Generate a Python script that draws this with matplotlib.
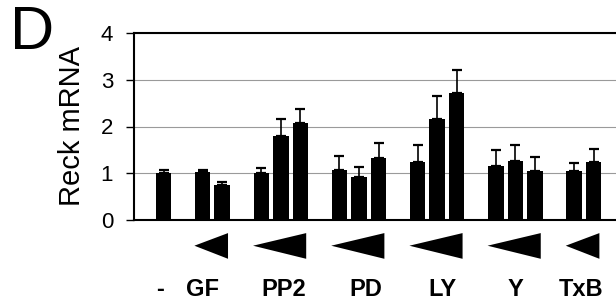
import matplotlib
matplotlib.use("Agg")
import matplotlib.pyplot as plt
import numpy as np
from matplotlib.patches import Polygon

plt.rcParams["font.family"] = ["Liberation Sans", "DejaVu Sans"]

# groups of treatments, bars placed in slots with a blank slot between groups
groups = ["-", "GF", "PP2", "PD", "LY", "Y", "TxB"]
group_slots = [[0], [2, 3], [5, 6, 7], [9, 10, 11], [13, 14, 15], [17, 18, 19], [21, 22]]
means = [
    [1.00],
    [1.02, 0.74],
    [1.00, 1.80, 2.07],
    [1.08, 0.93, 1.33],
    [1.25, 2.17, 2.72],
    [1.16, 1.27, 1.05],
    [1.04, 1.24],
]
errors = [
    [0.06],
    [0.06, 0.07],
    [0.12, 0.36, 0.30],
    [0.28, 0.21, 0.31],
    [0.35, 0.48, 0.49],
    [0.33, 0.33, 0.30],
    [0.18, 0.28],
]
yticks = [0, 1, 2, 3, 4]
# small horizontal nudges of the group labels (slot units)
label_shift = [-0.2, -0.5, 0.15, 0.35, 0.25, 0.0, -0.15]

x = np.concatenate([np.array(s, float) for s in group_slots])
y = np.concatenate([np.array(m, float) for m in means])
e = np.concatenate([np.array(v, float) for v in errors])

fig = plt.figure(figsize=(6.16, 3.06), dpi=100)
ax = fig.add_axes([134 / 616, 1 - 220 / 306, 1 - 134 / 616, 187 / 306])

ax.bar(x, y, width=0.79, color="black", zorder=3)
ax.errorbar(x, y, yerr=[np.zeros_like(e), e], fmt="none", ecolor="black",
            elinewidth=1.2, capsize=3.6, capthick=1.6, zorder=4)

ax.set_xlim(-1.51, 23.15)
ax.set_ylim(0, 4)
ax.set_yticks(yticks)
ax.set_yticklabels([str(t) for t in yticks], fontsize=16)
ax.set_xticks([])
ax.tick_params(axis="y", direction="out", length=6, width=1, pad=9, colors="black")
ax.yaxis.grid(True, color="#9a9a9a", linewidth=0.8, zorder=0)
ax.set_axisbelow(True)
for side in ("left", "bottom", "top"):
    ax.spines[side].set_linewidth(1.5)
    ax.spines[side].set_color("black")
ax.spines["right"].set_visible(False)

ax.set_ylabel("Reck mRNA", fontsize=21)
ax.yaxis.set_label_coords(-0.099, 0.5)

# dose wedges under each treated group
for slots in group_slots[1:]:
    tip = slots[0] - 0.42
    base = slots[-1] + 0.3
    tri = Polygon([[tip, -0.55], [base, -0.28], [base, -0.83]], closed=True,
                  facecolor="black", edgecolor="none", clip_on=False)
    ax.add_patch(tri)

for name, slots, dx in zip(groups, group_slots, label_shift):
    cx = np.mean(slots) + dx
    ax.text(cx, -1.48, name, ha="center", va="center", fontsize=17,
            fontweight="bold", clip_on=False)

fig.text(10 / 616, 1 - 49 / 306, "D", fontsize=44, ha="left", va="baseline")

fig.savefig("out.png", dpi=100)
